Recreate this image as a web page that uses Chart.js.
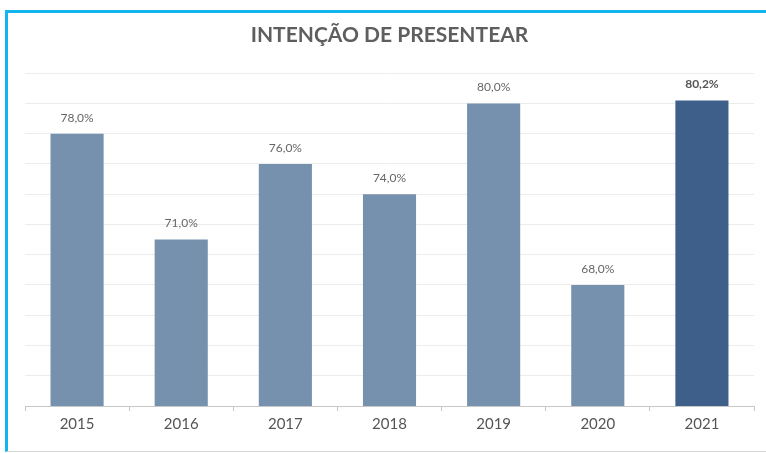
<!DOCTYPE html>
<html>
<head>
<meta charset="utf-8">
<script src="https://cdn.jsdelivr.net/npm/chart.js@4"></script>
<style>
  html, body { margin: 0; padding: 0; background: #fff; }
  #frame {
    position: absolute; left: 5px; top: 10px; width: 761px; height: 438px;
    border-top: 3px solid #12b5ee; border-left: 3px solid #12b5ee;
    border-bottom: 1px solid #d6d6d6;
  }
  #wrap { position: absolute; left: 0; top: 0; width: 766px; height: 453px; }
</style>
</head>
<body>
<div id="frame"></div>
<div id="wrap"><canvas id="c" width="766" height="453"></canvas></div>
<script>
  const years = ["2015", "2016", "2017", "2018", "2019", "2020", "2021"];
  const intent = [78.0, 71.0, 76.0, 74.0, 80.0, 68.0, 80.2];
  const highlightYear = "2021";

  const LIGHT = "#7591ad";
  const DARK = "#3e5f8a";

  function fmt(v) {
    return v.toFixed(1).replace(".", ",") + "%";
  }

  const valueLabels = {
    id: "valueLabels",
    afterDatasetsDraw(chart) {
      const ctx = chart.ctx;
      const meta = chart.getDatasetMeta(0);
      ctx.save();
      ctx.textAlign = "center";
      ctx.textBaseline = "middle";
      meta.data.forEach((bar, i) => {
        const hi = years[i] === highlightYear;
        ctx.font = (hi ? "bold " : "") + "12px Lato, sans-serif";
        ctx.fillStyle = hi ? "#555" : "#666";
        ctx.fillText(fmt(intent[i]), bar.x, bar.y - 16);
      });
      ctx.restore();
    },
  };

  new Chart(document.getElementById("c"), {
    type: "bar",
    data: {
      labels: years,
      datasets: [{
        data: intent,
        backgroundColor: years.map((y) => (y === highlightYear ? DARK : LIGHT)),
        barPercentage: 0.51,
        categoryPercentage: 1,
      }],
    },
    options: {
      responsive: false,
      animation: false,
      layout: { padding: { left: 25, right: 12, top: 0, bottom: 16 } },
      plugins: {
        legend: { display: false },
        tooltip: { enabled: false },
        title: {
          display: true,
          text: "INTENÇÃO DE PRESENTEAR",
          color: "#5e5e5e",
          font: { family: "Lato, sans-serif", size: 21, weight: "bold" },
          padding: { top: 23, bottom: 25 },
        },
      },
      scales: {
        x: {
          grid: { drawOnChartArea: false, tickLength: 5, color: "#c8c8c8" },
          border: { color: "#c8c8c8" },
          ticks: { color: "#555", font: { family: "Lato, sans-serif", size: 15 }, padding: 4 },
        },
        y: {
          min: 60,
          max: 82,
          ticks: { display: false, stepSize: 2 },
          grid: { color: "#ececec", drawTicks: false },
          border: { display: false },
        },
      },
    },
    plugins: [valueLabels],
  });
</script>
</body>
</html>
